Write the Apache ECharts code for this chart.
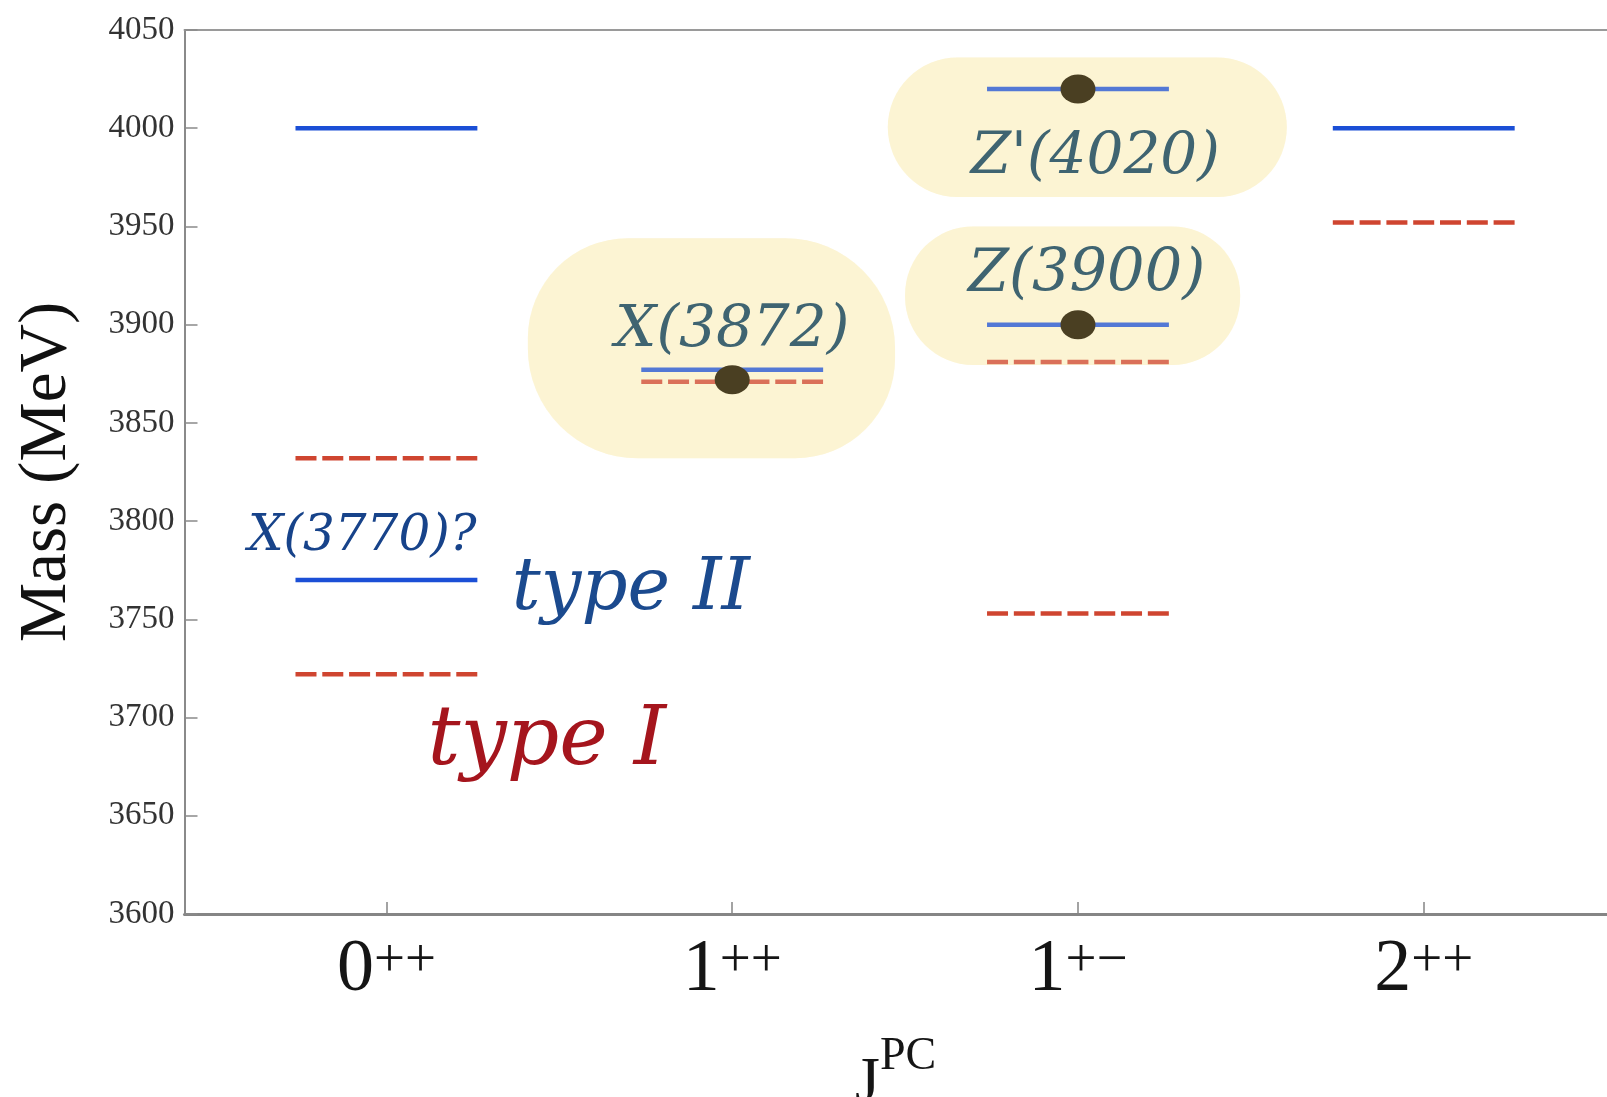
<!DOCTYPE html>
<html>
<head>
<meta charset="utf-8">
<script src="https://cdn.jsdelivr.net/npm/echarts@6/dist/echarts.min.js"></script>
<style>
  html, body { margin: 0; padding: 0; background: #ffffff; }
  #chart { width: 1607px; height: 1097px; }
</style>
</head>
<body>
<div id="chart"></div>
<script>
// J^PC quantum numbers along the horizontal axis (spin + superscript PC)
const spins = ['0', '1', '1', '2'];
const parityC = ['++', '++', '+\u2212', '++'];

// Mass ticks (MeV)
const massMin = 3600;
const massMax = 4050;
const massStep = 50;

// Predicted levels: [J^PC index, mass in MeV]
const typeIILevels = [[0, 4000], [0, 3770], [1, 3877], [2, 4020], [2, 3900], [3, 4000]];
const typeILevels  = [[0, 3832], [0, 3722], [1, 3871], [2, 3881], [2, 3753], [3, 3952]];

// Observed states: [J^PC index, mass in MeV]
const observedStates = [[1, 3872], [2, 4020], [2, 3900]];

// ---- drawing layout (data-space placement of the hand annotations) ----
const LEVEL_HALF_WIDTH = 0.263;
const highlightBoxes = [
  { x: [0.409, 1.471], y: [3832, 3944], r: [100, 110, 100, 110] },
  { x: [1.45, 2.604], y: [3965, 4036], r: 70 },
  { x: [1.50, 2.469], y: [3879.5, 3950], r: 68 }
];
const notes = [
  { text: 'X(3872)',  at: [1.0, 3897],   color: '#3f6471', size: 58 },
  { text: "Z'(4020)", at: [2.05, 3985],  color: '#3f6471', size: 58 },
  { text: 'Z(3900)',  at: [2.025, 3925], color: '#3f6471', size: 59 },
  { text: 'X(3770)?', at: [-0.07, 3792], color: '#17438a', size: 50 },
  { text: 'type II',  at: [0.707, 3765], color: '#1b4a8e', size: 72 },
  { text: 'type I',   at: [0.464, 3687], color: '#a5151d', size: 82 }
];

const SERIF = '"Liberation Serif", "Times New Roman", serif';
const HAND = '"DejaVu Serif", serif';
const HIGHLIGHT = '#fdf5d3';

function levelSeries(name, data, color, dashed) {
  return {
    type: 'custom',
    name: name,
    z: 3,
    data: data,
    encode: { x: 0, y: 1 },
    renderItem: function (params, api) {
      const c = api.value(0), m = api.value(1);
      const a = api.coord([c - LEVEL_HALF_WIDTH, m]);
      const b = api.coord([c + LEVEL_HALF_WIDTH, m]);
      return {
        type: 'line',
        shape: { x1: a[0], y1: a[1], x2: b[0], y2: b[1] },
        style: { stroke: color, lineWidth: 4.5, lineDash: dashed ? [21, 5.8] : null, lineCap: 'butt' }
      };
    }
  };
}

function highlightSeries(z, opacity) {
  return {
    type: 'custom',
    z: z,
    silent: true,
    data: highlightBoxes.map(function (b) { return [b.x[0], b.y[1], b.x[1], b.y[0]]; }),
    encode: { x: [0, 2], y: [1, 3] },
    renderItem: function (params, api) {
      const p0 = api.coord([api.value(0), api.value(1)]);
      const p1 = api.coord([api.value(2), api.value(3)]);
      return {
        type: 'rect',
        shape: { x: p0[0], y: p0[1], width: p1[0] - p0[0], height: p1[1] - p0[1], r: highlightBoxes[params.dataIndex].r },
        style: { fill: HIGHLIGHT, opacity: opacity }
      };
    }
  };
}

const chart = echarts.init(document.getElementById('chart'), null, { renderer: 'canvas' });

chart.setOption({
  animation: false,
  backgroundColor: '#ffffff',
  grid: { left: 184.5, right: 0, top: 30, bottom: 183, containLabel: false, outerBoundsMode: 'none' },
  xAxis: [{
    type: 'value',
    min: -0.584,
    max: 3.53,
    splitLine: { show: false },
    axisLine: { onZero: false, lineStyle: { color: '#858585', width: 3 } },
    axisTick: { inside: true, length: 12, customValues: [0, 1, 2, 3], lineStyle: { color: '#858585', width: 1.5 } },
    axisLabel: {
      customValues: [0, 1, 2, 3],
      margin: 20,
      formatter: function (v) { return '{n|' + spins[v] + '}{s|' + parityC[v] + '}'; },
      rich: {
        n: { fontFamily: SERIF, fontSize: 74, lineHeight: 74, color: '#151515' },
        s: { fontFamily: SERIF, fontSize: 55, lineHeight: 55, color: '#151515', verticalAlign: 'top' }
      }
    },
    name: '{j|J}{s|PC}{h| }',
    nameLocation: 'middle',
    nameGap: 120,
    nameTextStyle: {
      rich: {
        j: { fontFamily: SERIF, fontSize: 64, lineHeight: 64, color: '#151515', verticalAlign: 'bottom' },
        s: { fontFamily: SERIF, fontSize: 46, lineHeight: 46, color: '#151515', verticalAlign: 'top' },
        h: { fontSize: 1, lineHeight: 82 }
      }
    }
  }, {
    type: 'value',
    position: 'top',
    min: -0.584,
    max: 3.53,
    splitLine: { show: false },
    axisLine: { onZero: false, lineStyle: { color: '#9a9a9a', width: 2 } },
    axisTick: { show: false },
    axisLabel: { show: false }
  }],
  yAxis: {
    type: 'value',
    min: massMin,
    max: massMax,
    interval: massStep,
    splitLine: { show: false },
    axisLine: { show: true, onZero: false, lineStyle: { color: '#8a8a8a', width: 2 } },
    axisTick: { show: true, inside: true, length: 13, lineStyle: { color: '#8a8a8a', width: 1.5 } },
    axisLabel: { fontFamily: SERIF, fontSize: 33, color: '#333333', margin: 10, formatter: function (v) { return String(v); } },
    name: 'Mass (MeV)',
    nameLocation: 'middle',
    nameGap: 104,
    nameTextStyle: { fontFamily: SERIF, fontSize: 67, color: '#111111' }
  },
  series: [
    highlightSeries(1, 1),
    levelSeries('type II', typeIILevels, '#1b4fd6', false),
    levelSeries('type I', typeILevels, '#cf4530', true),
    highlightSeries(4, 0.25),
    {
      type: 'scatter',
      name: 'observed',
      z: 5,
      data: observedStates,
      symbol: 'circle',
      symbolSize: [35, 29],
      itemStyle: { color: '#4a3f22', opacity: 1 }
    },
    {
      type: 'custom',
      z: 6,
      silent: true,
      data: notes.map(function (n) { return n.at; }),
      encode: { x: 0, y: 1 },
      renderItem: function (params, api) {
        const n = notes[params.dataIndex];
        const p = api.coord([api.value(0), api.value(1)]);
        return {
          type: 'text',
          x: p[0],
          y: p[1],
          style: {
            text: n.text,
            fill: n.color,
            fontFamily: HAND,
            fontStyle: 'italic',
            fontSize: n.size,
            align: 'center',
            verticalAlign: 'middle'
          }
        };
      }
    }
  ]
});
</script>
</body>
</html>
